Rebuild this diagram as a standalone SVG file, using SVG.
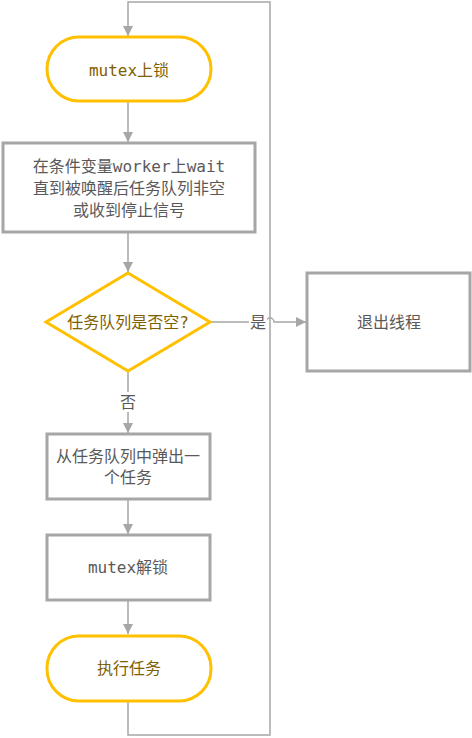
<svg xmlns="http://www.w3.org/2000/svg" width="472" height="738" viewBox="0 0 472 738">
<style>
.t{font-family:"DejaVu Sans Mono","Noto Sans CJK SC",monospace;font-size:16px;text-anchor:middle;dominant-baseline:central}
.g{fill:#7f6000}
.d{fill:#595959}
.term{fill:#fff;stroke:#ffc000;stroke-width:3}
.box{fill:#fff;stroke:#a6a6a6;stroke-width:3}
.ln{fill:none;stroke:#a6a6a6;stroke-width:1.5}
</style>
<defs>
<marker id="ar" markerWidth="10" markerHeight="10" refX="10" refY="5" orient="auto" markerUnits="userSpaceOnUse">
<path d="M0,0 L10,5 L0,10 z" fill="#a6a6a6"/>
</marker>
</defs>
<rect width="472" height="738" fill="#fff"/>
<g id="connectors">
<path class="ln" d="M128,701 V735 H270 V2 H128 V36" marker-end="url(#ar)"/>
<path class="ln" d="M128,101 V142" marker-end="url(#ar)"/>
<path class="ln" d="M128,232 V272" marker-end="url(#ar)"/>
<path class="ln" d="M210,322 H266 A4,4 0 0 1 274,322 H306" marker-end="url(#ar)"/>
<rect x="249" y="312" width="18" height="20" fill="#fff"/>
<text class="t d" x="258" y="322">是</text>
<path class="ln" d="M128,371 V433" marker-end="url(#ar)"/>
<rect x="118" y="392" width="20" height="20" fill="#fff"/>
<text class="t d" x="128" y="402">否</text>
<path class="ln" d="M128,499 V534" marker-end="url(#ar)"/>
<path class="ln" d="M128,600 V634" marker-end="url(#ar)"/>
</g>
<g id="lock">
<rect class="term" x="47" y="37" width="164" height="64" rx="32"/>
<text class="t g" x="129" y="70">mutex上锁</text>
</g>
<g id="wait">
<rect class="box" x="3" y="143" width="252" height="89"/>
<text class="t d" x="129" y="166">在条件变量worker上wait</text>
<text class="t d" x="129" y="188">直到被唤醒后任务队列非空</text>
<text class="t d" x="129" y="210">或收到停止信号</text>
</g>
<g id="check">
<polygon points="128,273 210,322 128,371 46,322" fill="#fff" stroke="#ffc000" stroke-width="3"/>
<text class="t g" x="128" y="322">任务队列是否空?</text>
</g>
<g id="exit">
<rect class="box" x="307" y="273" width="163" height="98"/>
<text class="t d" x="389" y="322">退出线程</text>
</g>
<g id="pop">
<rect class="box" x="47" y="434" width="163" height="65"/>
<text class="t d" x="128" y="456">从任务队列中弹出一</text>
<text class="t d" x="128" y="477">个任务</text>
</g>
<g id="unlock">
<rect class="box" x="47" y="535" width="163" height="65"/>
<text class="t d" x="128" y="567">mutex解锁</text>
</g>
<g id="run">
<rect class="term" x="47" y="636" width="164" height="65" rx="32"/>
<text class="t g" x="129" y="668">执行任务</text>
</g>
</svg>
